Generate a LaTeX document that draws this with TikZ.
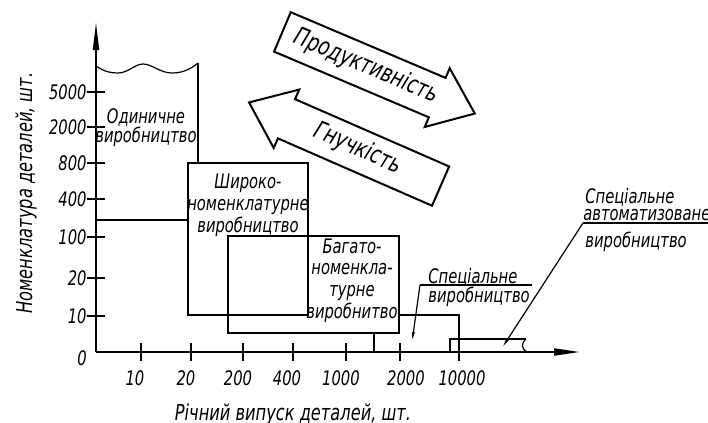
\documentclass[tikz,border=0pt]{standalone}
\usepackage{fontspec}
\setmainfont{DejaVu Sans Condensed}[FakeStretch=0.82]
\usepackage{tikz}
\usetikzlibrary{arrows.meta,shapes.arrows,positioning}

\tikzset{
  lbl/.style={font=\fontsize{10}{11}\selectfont\itshape, inner sep=0pt},
  axisline/.style={line width=1pt},
  thin/.style={line width=0.6pt},
  blockarrow/.style={single arrow, draw, line width=1pt, single arrow head extend=5.25pt,
    single arrow tip angle=76, minimum height=104.5pt, text height=8pt, text depth=2pt,
    inner ysep=5.2pt, font=\fontsize{12.5}{13}\selectfont\itshape}
}

\begin{document}
\begin{tikzpicture}[x=0.5pt,y=-0.5pt]
  \useasboundingbox (0,0) rectangle (708,423);
  % Axes
  \coordinate (O) at (96,352);
  \coordinate (ytop) at (96,22);
  \coordinate (xend) at (580,352);
  \draw[axisline, -{Triangle[length=14pt,width=3pt]}] (O) -- (ytop);
  \draw[axisline, -{Triangle[length=13pt,width=3.5pt]}] (O) -- (xend);
  \node[lbl] (y0) at (82,358) {0};
  % Y ticks
  \draw[thin] (87,92) -- (105,92);
  \draw[thin] (87,127) -- (105,127);
  \draw[thin] (87,163) -- (105,163);
  \draw[thin] (87,199) -- (105,199);
  \draw[thin] (87,237) -- (105,237);
  \draw[thin] (87,278) -- (105,278);
  \draw[thin] (87,316) -- (105,316);
  \node[lbl, anchor=east] (y5000) at (87,92) {5000};
  \node[lbl, anchor=east] (y2000) at (87,127) {2000};
  \node[lbl, anchor=east] (y800) at (87,163) {800};
  \node[lbl, anchor=east] (y400) at (87,199) {400};
  \node[lbl, anchor=east] (y100) at (87,237) {100};
  \node[lbl, anchor=east] (y20) at (87,278) {20};
  \node[lbl, anchor=east] (y10) at (87,316) {10};
  % X ticks
  \draw[thin] (141,343) -- (141,361);
  \draw[thin] (191,343) -- (191,361);
  \draw[thin] (243,343) -- (243,361);
  \draw[thin] (293,343) -- (293,361);
  \draw[thin] (346,343) -- (346,361);
  \draw[thin] (400,343) -- (400,361);
  \node[lbl] (x10) at (135,378) {10};
  \node[lbl] (x20) at (186,378) {20};
  \node[lbl] (x200) at (238,378) {200};
  \node[lbl] (x400) at (287,378) {400};
  \node[lbl] (x1000) at (341,378) {1000};
  \node[lbl] (x2000) at (406,378) {2000};
  \node[lbl] (x10000) at (462,378) {10000};
  % Axis titles
  \node[lbl, font=\fontsize{11}{12}\selectfont\itshape] (xtitle) at (293,414) {Річний випуск деталей, шт.};
  \node[lbl, rotate=90, font=\fontsize{11}{12}\selectfont\itshape] (ytitle) at (26,193) {Номенклатура деталей, шт.};
  % Single production
  \draw[thin] (96,66) .. controls (105,72) and (111,73) .. (118,73)
    .. controls (128,73) and (135,64) .. (143,64)
    .. controls (152,64) and (160,73) .. (172,73)
    .. controls (184,73) and (192,68) .. (198,63);
  \draw[thin] (198,63) -- (198,163);
  \draw[thin] (96,220) -- (188,220);
  \node[lbl, align=center, font=\fontsize{10}{9.5}\selectfont\itshape] (single) at (146,127.5) {Одиничне\\виробництво};
  % Wide-range production
  \draw[thin] (188,163) rectangle (308,315);
  \node[lbl, align=center, font=\fontsize{10}{11}\selectfont\itshape] (wide) at (248,205) {Широко-\\номенклатурне\\виробництво};
  % Multi-range production
  \draw[thin] (228,236) rectangle (399,333);
  \draw[thin] (374,333) -- (374,352);
  \node[lbl, align=center, font=\fontsize{10}{10.8}\selectfont\itshape] (multi) at (352,280.5) {Багато-\\номенкла-\\турне\\виробнитво};
  % Special production
  \draw[thin] (399,315) -- (459,315) -- (459,361);
  \coordinate (shelfS) at (420,285);
  \coordinate (tipS) at (412,342);
  \draw[thin] (shelfS) -- (532,285);
  \draw[thin, -{Latex[length=5pt,width=1.6pt]}] (shelfS) -- (tipS);
  \node[lbl, anchor=west] (spec1) at (428,277) {Спеціальне};
  \node[lbl, anchor=west] (spec2) at (428,297) {виробництво};
  % Special automated production
  \draw[thin] (450,352) -- (450,339) -- (526,339);
  \draw[thin] (526,339) .. controls (521,344) and (521,348) .. (527,352);
  \coordinate (shelfA) at (583,223);
  \coordinate (tipA) at (502,348);
  \draw[thin] (shelfA) -- (708,223);
  \draw[thin, -{Latex[length=5pt,width=1.6pt]}] (shelfA) -- (tipA);
  \node[lbl, anchor=west] (auto1) at (585,197) {Спеціальне};
  \node[lbl, anchor=west] (auto2) at (583,215) {автоматизоване};
  \node[lbl, anchor=west] (auto3) at (585,242) {виробництво};
  % Trend arrows
  \node[blockarrow, rotate=-23, anchor=tail] (prod) at (281.5,31.5) {Продуктивність};
  \node[blockarrow, rotate=-23.6, shape border rotate=180, anchor=tail] (flex) at (441.5,186.5) {Гнучкість};
\end{tikzpicture}
\end{document}
